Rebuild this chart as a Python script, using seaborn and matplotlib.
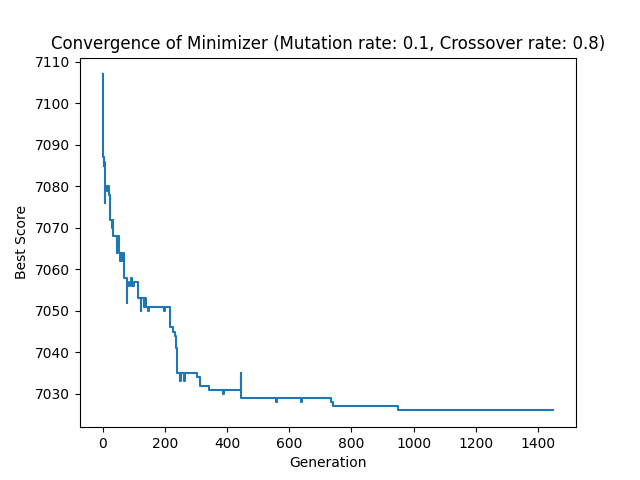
import pandas as pd
import matplotlib
matplotlib.use("Agg")
import matplotlib.pyplot as plt
import seaborn as sns

# best score changes (generation, score)
generations = [0, 1, 3, 4, 5, 7, 8, 9, 14, 17, 20, 22, 25, 30, 31, 33, 35, 40, 45, 48,
               52, 55, 58, 63, 65, 68, 75, 77, 80, 82, 88, 90, 95, 100, 110, 115, 120,
               122, 125, 130, 133, 136, 140, 145, 148, 195, 198, 200, 215, 218, 225,
               228, 232, 235, 238, 245, 248, 251, 260, 262, 265, 300, 303, 310, 313,
               340, 343, 385, 387, 390, 443, 445, 446, 555, 557, 560, 635, 637, 640,
               730, 733, 740, 945, 948, 1449]
scores = [7107, 7096, 7087, 7085, 7086, 7080, 7076, 7080, 7079, 7080, 7079, 7078, 7072,
          7072, 7070, 7072, 7068, 7068, 7064, 7068, 7064, 7062, 7064, 7062, 7064, 7058,
          7058, 7052, 7057, 7056, 7057, 7058, 7056, 7057, 7057, 7053, 7053, 7050, 7053,
          7053, 7051, 7053, 7051, 7050, 7051, 7051, 7050, 7051, 7051, 7046, 7046, 7045,
          7044, 7041, 7035, 7035, 7033, 7035, 7035, 7033, 7035, 7035, 7034, 7034, 7032,
          7032, 7031, 7031, 7030, 7031, 7031, 7035, 7029, 7029, 7028, 7029, 7029, 7028,
          7029, 7029, 7028, 7027, 7027, 7026, 7026]

df = pd.DataFrame({"Generation": generations, "Best Score": scores})

fig, ax = plt.subplots(figsize=(6.4, 4.8), dpi=100)
sns.lineplot(data=df, x="Generation", y="Best Score", estimator=None, sort=False,
             drawstyle="steps-post", color="#1f77b4", ax=ax)
ax.set_title("Convergence of Minimizer (Mutation rate: 0.1, Crossover rate: 0.8)")
ax.set_xlabel("Generation")
ax.set_ylabel("Best Score")
ax.set_xticks(range(0, 1401, 200))
fig.savefig("out.png")
